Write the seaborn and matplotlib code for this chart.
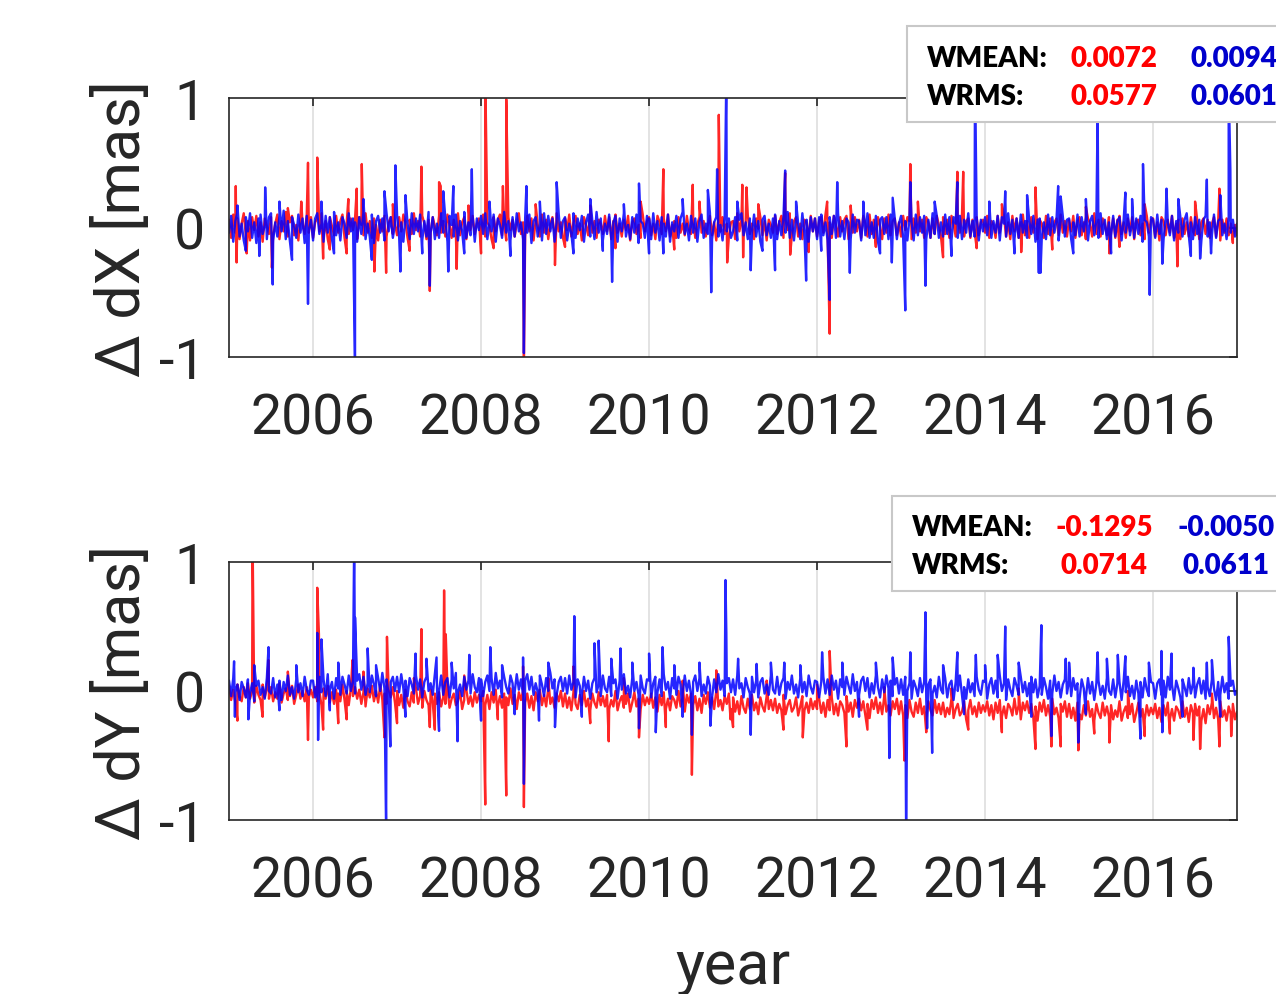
import numpy as np
import pandas as pd
import matplotlib
matplotlib.use("Agg")
import matplotlib.pyplot as plt
from matplotlib.patches import Rectangle
import seaborn as sns

sns.set_style("white")
plt.rcParams["font.family"] = ["Roboto", "DejaVu Sans"]
plt.rcParams["axes.unicode_minus"] = False

# sampling grid of the background noise (every 0.025 yr, 2005.0 .. 2017.0)
base_years = np.round(np.arange(2005.0, 2017.0001, 0.025), 3)

# ---- dX, red series: background + spikes
dx_red_base = [
    0.06, -0.08, 0.10, -0.04, 0.07, -0.09, 0.03, 0.11, -0.06, 0.05, -0.10, 0.08, -0.02, 0.09, -0.07, 0.04, -0.11, 0.07, 0.01, -0.05,
    0.08, -0.06, 0.03, 0.10, -0.09, 0.05, -0.03, 0.12, -0.07, 0.04, 0.09, -0.06, 0.02, -0.10, 0.07, 0.03, -0.05, 0.10, -0.04, 0.08,
    -0.08, 0.04, 0.07, -0.03, 0.11, -0.07, 0.05, -0.09, 0.08, 0.01, -0.06, 0.09, -0.04, 0.05, 0.10, -0.08, 0.03, -0.05, 0.07, -0.02,
    0.07, -0.09, 0.08, 0.02, -0.06, 0.11, -0.04, 0.05, -0.08, 0.07, 0.02, -0.10, 0.06, -0.03, 0.09, -0.07, 0.04, 0.08, -0.05, 0.03,
    -0.06, 0.08, -0.03, 0.10, 0.04, -0.08, 0.06, -0.05, 0.11, -0.02, 0.05, -0.07, 0.09, 0.03, -0.09, 0.06, -0.04, 0.08, 0.01, -0.06,
    0.09, -0.04, 0.05, -0.07, 0.10, 0.02, -0.08, 0.06, -0.03, 0.11, -0.06, 0.04, 0.08, -0.09, 0.05, -0.02, 0.09, -0.05, 0.03, 0.07,
    -0.05, 0.10, -0.07, 0.04, 0.01, -0.09, 0.08, -0.03, 0.06, 0.10, -0.06, 0.03, -0.10, 0.08, -0.02, 0.06, -0.07, 0.03, 0.11, -0.05,
    0.04, -0.07, 0.09, -0.03, 0.07, -0.10, 0.05, 0.02, -0.07, 0.10, -0.04, 0.06, -0.09, 0.03, 0.08, -0.05, 0.11, -0.03, 0.04, -0.08,
    0.07, -0.02, 0.10, -0.07, 0.04, 0.09, -0.05, 0.03, -0.10, 0.08, 0.02, -0.06, 0.12, -0.04, 0.05, -0.08, 0.06, 0.03, -0.05, 0.09,
    -0.03, 0.08, -0.09, 0.05, 0.10, -0.04, 0.03, -0.07, 0.06, -0.02, 0.09, -0.10, 0.04, 0.07, -0.05, 0.02, -0.08, 0.10, -0.03, 0.05,
    0.08, -0.06, 0.03, -0.09, 0.09, 0.04, -0.05, 0.07, -0.03, 0.10, -0.07, 0.02, 0.05, -0.08, 0.08, -0.04, 0.03, -0.06, 0.09, -0.02,
    -0.05, 0.07, -0.08, 0.03, 0.08, -0.04, 0.05, -0.07, 0.02, 0.09, -0.06, 0.04, -0.10, 0.07, -0.03, 0.08, -0.05, 0.03, -0.07, 0.04,
    0.05, -0.09, 0.11, -0.03, 0.06, -0.07, 0.04, 0.10, -0.05, 0.03, -0.09, 0.07, -0.01, 0.08, -0.06, 0.05, -0.10, 0.06, 0.02, -0.04,
    0.09, -0.05, 0.04, 0.09, -0.08, 0.06, -0.02, 0.11, -0.06, 0.05, 0.08, -0.07, 0.03, -0.09, 0.06, 0.04, -0.06, 0.09, -0.03, 0.07,
    -0.07, 0.05, 0.08, -0.04, 0.10, -0.06, 0.04, -0.08, 0.09, 0.02, -0.07, 0.08, -0.03, 0.06, 0.09, -0.09, 0.04, -0.04, 0.08, -0.03,
    0.06, -0.08, 0.09, 0.03, -0.07, 0.10, -0.05, 0.06, -0.09, 0.08, 0.01, -0.09, 0.07, -0.04, 0.10, -0.06, 0.05, 0.07, -0.06, 0.04,
    -0.07, 0.09, -0.02, 0.08, 0.05, -0.09, 0.07, -0.04, 0.10, -0.03, 0.06, -0.08, 0.08, 0.04, -0.08, 0.07, -0.05, 0.09, 0.02, -0.07,
    0.08, -0.05, 0.06, -0.08, 0.09, 0.03, -0.07, 0.07, -0.04, 0.10, -0.07, 0.05, 0.07, -0.08, 0.06, -0.03, 0.08, -0.06, 0.04, 0.06,
    -0.04, 0.09, -0.08, 0.05, 0.02, -0.08, 0.09, -0.04, 0.07, 0.09, -0.07, 0.04, -0.09, 0.09, -0.03, 0.07, -0.08, 0.04, 0.10, -0.06,
    0.05, -0.08, 0.08, -0.04, 0.08, -0.09, 0.06, 0.03, -0.08, 0.09, -0.05, 0.07, -0.08, 0.04, 0.07, -0.06, 0.10, -0.04, 0.05, -0.07,
    0.06, -0.03, 0.09, -0.08, 0.05, 0.08, -0.06, 0.04, -0.09, 0.07, 0.03, -0.07, 0.11, -0.05, 0.06, -0.07, 0.07, 0.02, -0.06, 0.08,
    -0.04, 0.07, -0.08, 0.06, 0.09, -0.05, 0.04, -0.08, 0.07, -0.03, 0.08, -0.09, 0.05, 0.06, -0.06, 0.03, -0.09, 0.09, -0.04, 0.06,
    0.07, -0.07, 0.04, -0.10, 0.08, 0.05, -0.06, 0.06, -0.04, 0.09, -0.08, 0.03, 0.06, -0.09, 0.07, -0.05, 0.04, -0.07, 0.08, -0.03,
    -0.06, 0.06, -0.09, 0.04, 0.07, -0.05, 0.06, -0.08, 0.03, 0.08, -0.07, 0.05, -0.10, 0.06, -0.04, 0.07, -0.06, 0.03, -0.08, 0.02,
    -0.06,
]
dx_red_spike_years = [2005.08, 2005.09, 2005.21, 2005.51, 2005.70, 2005.86, 2005.94, 2006.05, 2006.12, 2006.20,
                      2006.40, 2006.42, 2006.52, 2006.58, 2006.73, 2006.87, 2006.95, 2007.15, 2007.29, 2007.39,
                      2007.50, 2007.52, 2007.71, 2007.85, 2008.00, 2008.05, 2008.15, 2008.26, 2008.30, 2008.51,
                      2008.65, 2008.88, 2009.00, 2009.30, 2009.60, 2009.90, 2010.17, 2010.30, 2010.52, 2010.60,
                      2010.83, 2010.93, 2011.11, 2011.12, 2011.16, 2011.30, 2011.62, 2011.68, 2011.90, 2012.12,
                      2012.15, 2012.40, 2012.70, 2013.11, 2013.20, 2013.50, 2013.67, 2013.74, 2013.90, 2014.20,
                      2014.43, 2014.60, 2014.80, 2015.20, 2015.48, 2015.60, 2015.90, 2016.29, 2016.50, 2016.79,
                      2016.95]
dx_red_spike_vals = [0.32, -0.27, -0.20, -0.31, 0.15, 0.20, 0.50, 0.54, -0.24, -0.17,
                     -0.20, 0.22, 0.30, 0.49, -0.34, -0.35, 0.18, -0.18, 0.47, -0.49,
                     0.35, 0.32, -0.32, 0.17, -0.20, 1.20, -0.16, 0.32, 0.99, -1.10,
                     0.18, -0.29, -0.15, 0.17, -0.16, 0.20, 0.45, -0.17, 0.33, 0.20,
                     0.87, -0.27, 0.33, -0.23, 0.31, 0.18, 0.42, -0.21, -0.19, 0.20,
                     -0.82, 0.17, -0.15, 0.49, 0.20, -0.23, 0.43, 0.43, -0.16, 0.18,
                     -0.19, 0.31, -0.17, 0.16, -0.20, -0.15, 0.18, -0.30, 0.20, 0.30,
                     -0.12]

# ---- dX, blue series
dx_blue_base = [
    -0.04, 0.09, -0.11, 0.05, 0.12, -0.07, 0.03, -0.10, 0.08, -0.03, 0.11, -0.08, 0.04, -0.12, 0.07, 0.10, -0.05, 0.02, -0.09, 0.08,
    0.11, -0.10, 0.04, -0.07, 0.09, -0.03, 0.13, -0.09, 0.05, -0.11, 0.08, 0.02, -0.08, 0.10, -0.04, 0.07, -0.12, 0.09, -0.02, 0.06,
    -0.10, 0.07, 0.11, -0.05, 0.03, -0.11, 0.09, -0.04, 0.08, -0.09, 0.12, -0.06, 0.04, -0.10, 0.08, 0.03, -0.08, 0.11, -0.03, 0.07,
    0.04, -0.11, 0.08, -0.05, 0.12, -0.09, 0.03, -0.07, 0.10, -0.12, 0.05, 0.09, -0.04, 0.07, -0.10, 0.11, -0.03, 0.08, -0.08, 0.02,
    0.10, -0.07, 0.04, -0.11, 0.08, 0.03, -0.09, 0.11, -0.05, 0.07, -0.03, 0.10, -0.10, 0.05, -0.07, 0.12, -0.04, 0.08, -0.09, 0.03,
    -0.08, 0.11, -0.04, 0.07, -0.11, 0.09, 0.02, -0.07, 0.10, -0.10, 0.05, -0.03, 0.12, -0.08, 0.04, -0.06, 0.09, -0.11, 0.07, -0.02,
    0.09, -0.05, 0.11, -0.09, 0.04, -0.03, 0.10, -0.11, 0.07, 0.02, -0.08, 0.12, -0.04, 0.05, -0.10, 0.08, -0.07, 0.11, -0.03, 0.04,
    -0.09, 0.07, -0.04, 0.10, -0.12, 0.05, 0.08, -0.07, 0.03, -0.10, 0.11, -0.05, 0.09, -0.03, 0.07, -0.11, 0.04, 0.10, -0.08, 0.05,
    0.08, -0.10, 0.03, -0.05, 0.11, -0.08, 0.07, -0.02, 0.09, -0.11, 0.04, 0.10, -0.07, 0.05, -0.09, 0.12, -0.04, 0.07, -0.10, 0.03,
    -0.05, 0.10, -0.08, 0.04, 0.09, -0.11, 0.07, -0.03, 0.11, -0.07, 0.02, -0.09, 0.08, -0.04, 0.10, -0.12, 0.05, 0.03, -0.08, 0.09,
    0.07, -0.09, 0.11, -0.04, 0.05, -0.10, 0.08, 0.03, -0.07, 0.10, -0.11, 0.04, -0.03, 0.09, -0.08, 0.07, 0.12, -0.05, 0.03, -0.10,
    0.09, -0.04, 0.07, -0.11, 0.05, 0.10, -0.08, 0.03, -0.05, 0.11, -0.09, 0.04, 0.08, -0.07, 0.02, -0.10, 0.09, -0.03, 0.07, -0.08,
    -0.03, 0.08, -0.10, 0.06, 0.11, -0.06, 0.04, -0.09, 0.07, -0.04, 0.10, -0.07, 0.05, -0.11, 0.06, 0.09, -0.06, 0.03, -0.08, 0.07,
    0.10, -0.09, 0.05, -0.06, 0.08, -0.04, 0.12, -0.08, 0.06, -0.10, 0.07, 0.03, -0.09, 0.11, -0.05, 0.06, -0.11, 0.08, -0.03, 0.07,
    -0.09, 0.08, 0.10, -0.06, 0.04, -0.10, 0.08, -0.05, 0.09, -0.08, 0.11, -0.07, 0.05, -0.09, 0.07, 0.04, -0.09, 0.10, -0.04, 0.06,
    0.05, -0.10, 0.09, -0.06, 0.11, -0.08, 0.04, -0.08, 0.09, -0.11, 0.06, 0.08, -0.05, 0.08, -0.09, 0.10, -0.04, 0.07, -0.09, 0.03,
    0.09, -0.08, 0.05, -0.10, 0.07, 0.04, -0.10, 0.10, -0.06, 0.08, -0.04, 0.09, -0.09, 0.06, -0.08, 0.11, -0.05, 0.09, -0.08, 0.04,
    -0.07, 0.10, -0.05, 0.08, -0.10, 0.08, 0.03, -0.08, 0.09, -0.09, 0.06, -0.04, 0.11, -0.07, 0.05, -0.07, 0.08, -0.10, 0.06, -0.03,
    0.08, -0.06, 0.10, -0.08, 0.05, -0.04, 0.09, -0.10, 0.08, 0.03, -0.07, 0.11, -0.05, 0.06, -0.09, 0.07, -0.08, 0.10, -0.04, 0.05,
    -0.08, 0.06, -0.05, 0.09, -0.11, 0.06, 0.07, -0.08, 0.04, -0.09, 0.10, -0.06, 0.08, -0.04, 0.06, -0.10, 0.05, 0.09, -0.07, 0.06,
    0.07, -0.09, 0.04, -0.06, 0.10, -0.07, 0.08, -0.03, 0.08, -0.10, 0.05, 0.09, -0.06, 0.06, -0.08, 0.11, -0.05, 0.06, -0.09, 0.04,
    -0.06, 0.09, -0.07, 0.05, 0.08, -0.10, 0.06, -0.04, 0.10, -0.06, 0.03, -0.08, 0.07, -0.05, 0.09, -0.11, 0.06, 0.04, -0.07, 0.08,
    0.06, -0.08, 0.10, -0.05, 0.06, -0.09, 0.07, 0.04, -0.06, 0.09, -0.10, 0.05, -0.04, 0.08, -0.07, 0.06, 0.11, -0.06, 0.04, -0.09,
    0.08, -0.05, 0.06, -0.10, 0.06, 0.09, -0.07, 0.04, -0.06, 0.10, -0.08, 0.05, 0.07, -0.06, 0.03, -0.09, 0.08, -0.04, 0.06, -0.07,
    0.03,
]
dx_blue_spike_years = [2005.10, 2005.20, 2005.36, 2005.43, 2005.52, 2005.60, 2005.75, 2005.94, 2006.10, 2006.25,
                       2006.50, 2006.60, 2006.70, 2006.85, 2006.98, 2007.04, 2007.10, 2007.30, 2007.39, 2007.55,
                       2007.61, 2007.67, 2007.80, 2007.89, 2008.10, 2008.35, 2008.51, 2008.54, 2008.70, 2008.90,
                       2009.10, 2009.30, 2009.45, 2009.56, 2009.70, 2009.88, 2010.00, 2010.17, 2010.40, 2010.70,
                       2010.74, 2010.81, 2010.92, 2011.05, 2011.21, 2011.35, 2011.50, 2011.62, 2011.75, 2011.87,
                       2012.05, 2012.15, 2012.24, 2012.39, 2012.55, 2012.75, 2012.89, 2012.90, 2013.05, 2013.11,
                       2013.29, 2013.40, 2013.60, 2013.67, 2013.88, 2014.05, 2014.24, 2014.35, 2014.50, 2014.64,
                       2014.66, 2014.87, 2014.90, 2015.05, 2015.20, 2015.34, 2015.50, 2015.67, 2015.75, 2015.88,
                       2015.96, 2016.11, 2016.16, 2016.30, 2016.45, 2016.56, 2016.64, 2016.69, 2016.80, 2016.90,
                       2016.92]
dx_blue_spike_vals = [0.17, -0.18, -0.22, 0.31, -0.44, 0.20, -0.25, -0.59, 0.20, -0.20,
                      -1.10, 0.22, -0.25, 0.28, 0.48, -0.34, 0.25, -0.20, -0.45, 0.28,
                      -0.34, 0.32, -0.20, 0.45, 0.20, -0.22, -0.97, 0.32, 0.20, 0.35,
                      -0.20, 0.22, -0.18, -0.42, 0.18, 0.34, -0.20, -0.20, 0.22, 0.29,
                      -0.50, 0.45, 1.20, 0.20, -0.33, -0.18, -0.33, 0.44, 0.20, -0.41,
                      -0.18, -0.56, 0.35, -0.35, 0.20, -0.20, -0.27, 0.23, -0.64, 0.35,
                      -0.45, 0.20, -0.22, 0.35, 1.20, 0.20, 0.28, -0.20, 0.25, -0.35,
                      -0.35, 0.32, 0.24, -0.20, 0.22, 0.90, -0.20, 0.27, 0.22, 0.49,
                      -0.52, -0.28, 0.30, 0.22, -0.22, -0.24, 0.37, -0.20, 0.25, 1.10,
                      0.45]

# ---- dY, red series (slow drift towards -0.16)
dy_red_base = [
    0.04, -0.07, 0.01, -0.09, 0.05, -0.04, -0.08, 0.03, -0.05, 0.06, -0.06, 0.00, -0.09, 0.04, -0.03, -0.07, 0.05, -0.05, 0.02, -0.06,
    0.03, -0.08, -0.01, -0.06, 0.06, -0.09, -0.02, 0.02, -0.07, -0.04, 0.04, -0.10, -0.03, 0.05, -0.06, 0.00, -0.08, 0.03, -0.05, 0.01,
    -0.05, 0.03, -0.08, 0.00, -0.11, 0.02, -0.06, 0.04, -0.09, -0.01, -0.10, 0.01, -0.02, -0.08, 0.05, -0.07, 0.00, -0.11, 0.02, -0.04,
    0.03, -0.06, 0.01, -0.10, -0.01, -0.12, 0.02, -0.05, 0.04, -0.08, 0.00, -0.09, 0.05, -0.07, -0.02, -0.10, 0.01, -0.05, 0.03, -0.09,
    0.00, -0.11, -0.03, -0.13, 0.01, -0.08, -0.12, -0.01, -0.09, 0.02, -0.10, -0.04, -0.13, 0.00, -0.07, -0.11, 0.01, -0.09, -0.02, -0.10,
    -0.01, -0.12, -0.05, -0.10, 0.02, -0.13, -0.06, -0.02, -0.11, -0.08, 0.00, -0.14, -0.07, 0.01, -0.10, -0.04, -0.12, -0.01, -0.09, -0.03,
    -0.08, 0.00, -0.11, -0.03, -0.14, -0.01, -0.09, 0.01, -0.12, -0.04, -0.13, -0.02, -0.05, -0.11, 0.02, -0.10, -0.03, -0.14, -0.01, -0.07,
    0.00, -0.09, -0.02, -0.13, -0.04, -0.15, -0.01, -0.08, 0.01, -0.11, -0.03, -0.12, 0.02, -0.10, -0.05, -0.13, -0.02, -0.08, 0.00, -0.12,
    -0.02, -0.13, -0.05, -0.15, -0.01, -0.10, -0.14, -0.03, -0.11, 0.00, -0.12, -0.06, -0.15, -0.02, -0.09, -0.13, -0.01, -0.11, -0.04, -0.12,
    -0.03, -0.14, -0.07, -0.12, 0.00, -0.15, -0.08, -0.04, -0.13, -0.10, -0.02, -0.16, -0.09, -0.01, -0.12, -0.06, -0.14, -0.03, -0.11, -0.05,
    -0.10, -0.02, -0.13, -0.05, -0.16, -0.03, -0.11, -0.01, -0.14, -0.06, -0.15, -0.04, -0.07, -0.13, 0.00, -0.12, -0.05, -0.16, -0.03, -0.09,
    -0.02, -0.11, -0.04, -0.15, -0.06, -0.17, -0.03, -0.10, -0.01, -0.13, -0.05, -0.14, 0.00, -0.12, -0.07, -0.15, -0.04, -0.10, -0.02, -0.14,
    -0.05, -0.16, -0.08, -0.18, -0.04, -0.13, -0.17, -0.06, -0.14, -0.03, -0.15, -0.09, -0.18, -0.05, -0.12, -0.16, -0.04, -0.14, -0.07, -0.15,
    -0.06, -0.17, -0.10, -0.15, -0.03, -0.18, -0.11, -0.07, -0.16, -0.13, -0.05, -0.19, -0.12, -0.04, -0.15, -0.09, -0.17, -0.06, -0.14, -0.08,
    -0.14, -0.06, -0.17, -0.09, -0.20, -0.07, -0.15, -0.05, -0.18, -0.10, -0.19, -0.08, -0.11, -0.17, -0.04, -0.16, -0.09, -0.20, -0.07, -0.13,
    -0.06, -0.15, -0.08, -0.19, -0.10, -0.21, -0.07, -0.14, -0.05, -0.17, -0.09, -0.18, -0.04, -0.16, -0.11, -0.19, -0.08, -0.14, -0.06, -0.18,
    -0.08, -0.19, -0.11, -0.21, -0.07, -0.16, -0.20, -0.09, -0.17, -0.06, -0.18, -0.12, -0.21, -0.08, -0.15, -0.19, -0.07, -0.17, -0.10, -0.18,
    -0.09, -0.20, -0.13, -0.18, -0.06, -0.21, -0.14, -0.10, -0.19, -0.16, -0.08, -0.22, -0.15, -0.07, -0.18, -0.12, -0.20, -0.09, -0.17, -0.11,
    -0.16, -0.08, -0.19, -0.11, -0.22, -0.09, -0.17, -0.07, -0.20, -0.12, -0.21, -0.10, -0.13, -0.19, -0.06, -0.18, -0.11, -0.22, -0.09, -0.15,
    -0.08, -0.17, -0.10, -0.21, -0.12, -0.23, -0.09, -0.16, -0.07, -0.19, -0.11, -0.20, -0.06, -0.18, -0.13, -0.21, -0.10, -0.16, -0.08, -0.20,
    -0.10, -0.21, -0.13, -0.23, -0.09, -0.18, -0.22, -0.11, -0.19, -0.08, -0.20, -0.14, -0.23, -0.10, -0.17, -0.21, -0.09, -0.19, -0.12, -0.20,
    -0.11, -0.22, -0.15, -0.20, -0.08, -0.23, -0.16, -0.12, -0.21, -0.18, -0.10, -0.24, -0.17, -0.09, -0.20, -0.14, -0.22, -0.11, -0.19, -0.13,
    -0.18, -0.10, -0.21, -0.13, -0.24, -0.11, -0.19, -0.09, -0.22, -0.14, -0.23, -0.12, -0.15, -0.21, -0.08, -0.20, -0.13, -0.24, -0.11, -0.17,
    -0.10, -0.19, -0.12, -0.23, -0.14, -0.25, -0.11, -0.18, -0.09, -0.21, -0.13, -0.22, -0.08, -0.20, -0.15, -0.23, -0.12, -0.18, -0.10, -0.22,
    -0.16,
]
dy_red_spike_years = [2005.10, 2005.28, 2005.40, 2005.47, 2005.70, 2005.94, 2006.05, 2006.07, 2006.12, 2006.30,
                      2006.40, 2006.47, 2006.60, 2006.85, 2006.88, 2007.00, 2007.20, 2007.29, 2007.39, 2007.45,
                      2007.56, 2007.58, 2007.80, 2008.05, 2008.20, 2008.30, 2008.50, 2008.51, 2008.80, 2009.10,
                      2009.30, 2009.52, 2009.70, 2009.88, 2010.20, 2010.40, 2010.51, 2010.80, 2010.97, 2011.00,
                      2011.40, 2011.60, 2011.83, 2012.00, 2012.15, 2012.35, 2012.60, 2012.80, 2013.04, 2013.30,
                      2013.60, 2013.80, 2014.20, 2014.40, 2014.60, 2014.79, 2014.90, 2015.11, 2015.30, 2015.48,
                      2015.70, 2015.90, 2016.20, 2016.48, 2016.56, 2016.70, 2016.79, 2016.93]
dy_red_spike_vals = [-0.23, 1.20, -0.20, 0.24, 0.15, -0.38, 0.80, 0.44, -0.30, -0.25,
                     -0.22, 0.24, 0.15, -0.36, 0.42, -0.25, 0.10, 0.48, -0.28, -0.30,
                     0.78, 0.44, 0.12, -0.88, -0.22, -0.81, 0.19, -0.90, 0.10, 0.19,
                     -0.25, -0.39, 0.10, -0.36, -0.28, 0.08, -0.65, 0.16, -0.22, -0.28,
                     0.08, -0.30, -0.36, 0.05, 0.31, -0.43, -0.30, 0.03, -0.54, -0.32,
                     0.02, -0.30, -0.32, 0.02, -0.45, -0.43, -0.43, -0.46, -0.33, -0.40,
                     0.00, -0.35, -0.33, -0.38, -0.45, -0.02, -0.43, -0.35]

# ---- dY, blue series
dy_blue_base = [
    0.08, -0.04, 0.10, -0.01, 0.05, -0.07, 0.07, 0.02, -0.05, 0.09, -0.02, 0.06, -0.08, 0.04, 0.08, -0.03, 0.03, -0.06, 0.10, 0.00,
    -0.02, 0.10, -0.05, 0.05, 0.08, -0.07, 0.07, 0.00, 0.12, -0.03, 0.03, -0.06, 0.09, -0.01, 0.06, -0.04, 0.11, 0.01, -0.03, 0.08,
    0.08, -0.05, 0.06, 0.11, -0.01, 0.09, -0.04, 0.13, 0.01, 0.07, -0.06, 0.10, 0.02, -0.03, 0.11, 0.05, -0.02, 0.12, 0.00, 0.08,
    -0.02, 0.08, 0.13, 0.01, 0.11, -0.03, 0.06, -0.01, 0.12, 0.05, -0.04, 0.10, 0.00, 0.14, 0.02, 0.09, -0.03, 0.07, 0.11, 0.00,
    0.11, -0.01, 0.13, 0.02, 0.08, -0.04, 0.10, 0.05, -0.02, 0.12, 0.01, 0.09, -0.05, 0.07, 0.11, 0.00, 0.06, -0.03, 0.13, 0.03,
    0.00, 0.12, -0.03, 0.07, 0.10, -0.05, 0.09, 0.02, 0.14, -0.01, 0.05, -0.04, 0.11, 0.01, 0.08, -0.02, 0.13, 0.03, -0.01, 0.10,
    0.09, -0.04, 0.07, 0.12, 0.00, 0.10, -0.03, 0.14, 0.02, 0.08, -0.05, 0.11, 0.03, -0.02, 0.12, 0.06, -0.01, 0.13, 0.01, 0.09,
    -0.02, 0.08, 0.13, 0.01, 0.11, -0.03, 0.06, -0.01, 0.12, 0.05, -0.04, 0.10, 0.00, 0.14, 0.02, 0.09, -0.03, 0.07, 0.11, 0.00,
    0.10, -0.02, 0.12, 0.01, 0.07, -0.05, 0.09, 0.04, -0.03, 0.11, 0.00, 0.08, -0.06, 0.06, 0.10, -0.01, 0.05, -0.04, 0.12, 0.02,
    -0.01, 0.11, -0.04, 0.06, 0.09, -0.06, 0.08, 0.01, 0.13, -0.02, 0.04, -0.05, 0.10, 0.00, 0.07, -0.03, 0.12, 0.02, -0.02, 0.09,
    0.08, -0.05, 0.06, 0.11, -0.01, 0.09, -0.04, 0.13, 0.01, 0.07, -0.06, 0.10, 0.02, -0.03, 0.11, 0.05, -0.02, 0.12, 0.00, 0.08,
    -0.03, 0.07, 0.12, 0.00, 0.10, -0.04, 0.05, -0.02, 0.11, 0.04, -0.05, 0.09, -0.01, 0.13, 0.01, 0.08, -0.04, 0.06, 0.10, -0.01,
    0.09, -0.03, 0.12, 0.02, 0.06, -0.05, 0.10, 0.03, -0.02, 0.11, -0.01, 0.08, -0.05, 0.07, 0.10, -0.02, 0.05, -0.03, 0.12, 0.01,
    -0.02, 0.11, -0.03, 0.06, 0.10, -0.06, 0.07, 0.01, 0.12, -0.02, 0.05, -0.05, 0.10, -0.01, 0.07, -0.04, 0.12, 0.03, -0.02, 0.08,
    0.07, -0.05, 0.07, 0.11, -0.02, 0.09, -0.03, 0.12, 0.01, 0.08, -0.06, 0.09, 0.03, -0.03, 0.11, 0.04, -0.02, 0.13, 0.00, 0.07,
    -0.03, 0.08, 0.11, 0.00, 0.10, -0.05, 0.06, -0.02, 0.12, 0.03, -0.05, 0.09, -0.01, 0.12, 0.02, 0.08, -0.04, 0.05, 0.10, -0.02,
    0.09, -0.03, 0.11, 0.00, 0.06, -0.06, 0.08, 0.03, -0.04, 0.10, -0.01, 0.07, -0.07, 0.05, 0.09, -0.02, 0.04, -0.05, 0.11, 0.01,
    -0.02, 0.10, -0.05, 0.05, 0.08, -0.07, 0.07, 0.00, 0.12, -0.03, 0.03, -0.06, 0.09, -0.01, 0.06, -0.04, 0.11, 0.01, -0.03, 0.08,
    0.07, -0.06, 0.05, 0.10, -0.02, 0.08, -0.05, 0.12, 0.00, 0.06, -0.07, 0.09, 0.01, -0.04, 0.10, 0.04, -0.03, 0.11, -0.01, 0.07,
    -0.04, 0.06, 0.11, -0.01, 0.09, -0.05, 0.04, -0.03, 0.10, 0.03, -0.06, 0.08, -0.02, 0.12, 0.00, 0.07, -0.05, 0.05, 0.09, -0.02,
    0.08, -0.04, 0.10, 0.01, 0.06, -0.06, 0.09, 0.02, -0.05, 0.10, -0.02, 0.07, -0.07, 0.06, 0.08, -0.03, 0.04, -0.06, 0.10, 0.00,
    -0.03, 0.09, -0.05, 0.06, 0.07, -0.07, 0.08, -0.01, 0.11, -0.04, 0.04, -0.06, 0.08, -0.02, 0.07, -0.05, 0.10, 0.01, -0.04, 0.07,
    0.06, -0.06, 0.06, 0.09, -0.03, 0.08, -0.05, 0.11, 0.01, 0.05, -0.07, 0.08, 0.02, -0.05, 0.09, 0.03, -0.04, 0.10, -0.02, 0.06,
    -0.05, 0.05, 0.10, -0.02, 0.08, -0.06, 0.03, -0.04, 0.09, 0.02, -0.07, 0.07, -0.03, 0.11, -0.01, 0.06, -0.06, 0.04, 0.08, -0.03,
    0.00,
]
dy_blue_spike_years = [2005.06, 2005.07, 2005.23, 2005.30, 2005.47, 2005.60, 2005.80, 2006.05, 2006.06, 2006.10,
                       2006.20, 2006.30, 2006.49, 2006.50, 2006.65, 2006.75, 2006.87, 2006.92, 2007.10, 2007.22,
                       2007.35, 2007.47, 2007.50, 2007.65, 2007.72, 2007.86, 2008.00, 2008.11, 2008.25, 2008.40,
                       2008.50, 2008.51, 2008.69, 2008.80, 2008.88, 2009.11, 2009.20, 2009.35, 2009.40, 2009.55,
                       2009.66, 2009.80, 2009.88, 2010.00, 2010.08, 2010.16, 2010.30, 2010.40, 2010.51, 2010.60,
                       2010.73, 2010.91, 2010.92, 2011.06, 2011.21, 2011.28, 2011.45, 2011.61, 2011.80, 2012.06,
                       2012.30, 2012.50, 2012.70, 2012.86, 2012.90, 2013.06, 2013.11, 2013.29, 2013.31, 2013.37,
                       2013.50, 2013.67, 2013.75, 2013.89, 2014.00, 2014.15, 2014.24, 2014.40, 2014.55, 2014.67,
                       2014.79, 2014.96, 2015.00, 2015.11, 2015.20, 2015.34, 2015.45, 2015.58, 2015.67, 2015.85,
                       2015.95, 2016.10, 2016.11, 2016.22, 2016.35, 2016.48, 2016.64, 2016.70, 2016.80, 2016.90]
dy_blue_spike_vals = [0.23, -0.20, -0.22, 0.20, 0.34, -0.15, 0.20, 0.45, -0.38, 0.40,
                      -0.15, 0.22, 1.20, 0.57, 0.33, 0.20, -1.10, -0.43, -0.20, 0.29,
                      0.25, 0.26, -0.31, 0.22, -0.39, 0.28, -0.23, 0.34, 0.20, -0.18,
                      0.26, -0.72, -0.23, 0.22, -0.28, 0.58, -0.20, 0.37, 0.39, 0.25,
                      0.33, 0.22, -0.29, 0.29, -0.32, 0.34, 0.20, -0.20, -0.34, 0.22,
                      -0.27, 0.86, 0.45, 0.25, -0.34, 0.21, 0.22, 0.22, 0.20, 0.30,
                      0.22, -0.20, 0.22, -0.52, 0.26, -1.10, 0.30, 0.61, -0.29, -0.48,
                      0.20, 0.30, -0.18, 0.28, 0.20, 0.28, 0.50, 0.22, -0.20, 0.51,
                      -0.35, 0.25, 0.22, -0.40, -0.18, 0.30, 0.25, 0.28, 0.27, -0.37,
                      0.22, 0.31, -0.32, 0.29, -0.20, 0.18, 0.22, 0.24, -0.20, 0.42]

# statistics shown in the boxes
dx_stats = {"WMEAN:": ("0.0072", "0.0094"), "WRMS:": ("0.0577", "0.0601")}
dy_stats = {"WMEAN:": ("-0.1295", "-0.0050"), "WRMS:": ("0.0714", "0.0611")}

xticks = [2006, 2008, 2010, 2012, 2014, 2016]
yticks = [-1, 0, 1]

RED = "#ff0000"
BLUE = "#0000ff"
TXT = "#262626"


def series(base, spike_years, spike_vals):
    n = min(len(base), len(base_years))
    df = pd.concat([
        pd.DataFrame({"year": base_years[:n], "value": base[:n]}),
        pd.DataFrame({"year": spike_years, "value": spike_vals}),
    ])
    return df.sort_values("year", kind="stable").reset_index(drop=True)


fig = plt.figure(figsize=(12.76, 9.95), dpi=100)
ax1 = fig.add_axes([0.1795, 0.6402, 0.790, 0.2603])
ax2 = fig.add_axes([0.1795, 0.1749, 0.790, 0.2593])

panels = [
    (ax1, series(dx_red_base, dx_red_spike_years, dx_red_spike_vals),
     series(dx_blue_base, dx_blue_spike_years, dx_blue_spike_vals), "\u0394 dX [mas]"),
    (ax2, series(dy_red_base, dy_red_spike_years, dy_red_spike_vals),
     series(dy_blue_base, dy_blue_spike_years, dy_blue_spike_vals), "\u0394 dY [mas]"),
]

for ax, red_df, blue_df, ylab in panels:
    sns.lineplot(data=red_df, x="year", y="value", ax=ax, color=RED, linewidth=1.7,
                 alpha=0.85, estimator=None, sort=True)
    sns.lineplot(data=blue_df, x="year", y="value", ax=ax, color=BLUE, linewidth=1.7,
                 alpha=0.85, estimator=None, sort=True)
    ax.set_xlim(2005, 2017)
    ax.set_ylim(-1, 1)
    ax.set_xticks(xticks)
    ax.set_yticks(yticks)
    ax.grid(axis="x", color="#dedede", linewidth=1.2)
    ax.grid(axis="y", visible=False)
    ax.set_axisbelow(True)
    ax.tick_params(axis="both", direction="in", length=6, width=1.2, color=TXT,
                   top=True, right=True, labelsize=40, labelcolor=TXT)
    ax.tick_params(axis="x", pad=25)
    ax.tick_params(axis="y", pad=17)
    for s in ax.spines.values():
        s.set_color(TXT)
        s.set_linewidth(1.2)
    ax.set_ylabel(ylab, fontsize=44, color=TXT, labelpad=5)
    ax.set_xlabel("")

ax2.set_xlabel("year", fontsize=44, color=TXT, labelpad=22)


def stat_box(stats, x0, y0, y1, xl, xr, xb, rows_y):
    fig.patches.append(Rectangle((x0, y1), 1.2 - x0, y0 - y1, transform=fig.transFigure,
                                 facecolor="white", edgecolor="#c8c8c8", linewidth=1.5,
                                 zorder=5))
    for (lab, (rv, bv)), yy in zip(stats.items(), rows_y):
        kw = dict(fontsize=20, fontweight="heavy", va="center", family=["Lato", "DejaVu Sans"],
                  zorder=6)
        fig.text(xl, yy, lab, color="black", ha="left", **kw)
        fig.text(xr, yy, rv, color=RED, ha="center", **kw)
        fig.text(xb, yy, bv, color="#0000cc", ha="center", **kw)


stat_box(dx_stats, 0.7108, 0.9729, 0.8764, 0.7265, 0.8730, 0.9671, [0.9407, 0.9025])
stat_box(dy_stats, 0.6991, 0.5005, 0.4050, 0.7147, 0.8652, 0.9608, [0.4694, 0.4312])

fig.savefig("out.png", dpi=100, facecolor="white")
